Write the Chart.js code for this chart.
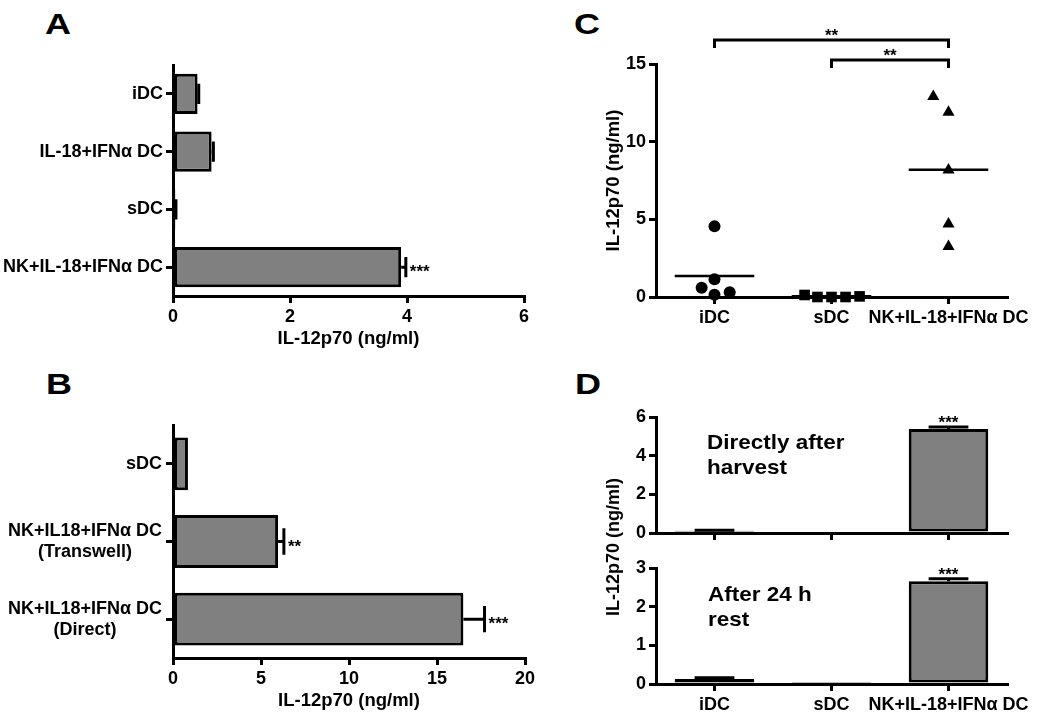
<!DOCTYPE html>
<html>
<head>
<meta charset="utf-8">
<script src="https://cdn.jsdelivr.net/npm/chart.js@4.4.1/dist/chart.umd.min.js"></script>
<style>
  body { margin: 0; background: #fff; width: 1050px; height: 721px; position: relative; overflow: hidden;
         font-family: "Liberation Sans", Arial, sans-serif; }
  canvas { position: absolute; }
  .txt { position: absolute; font-weight: bold; color: #000; white-space: nowrap; line-height: 1; }
  .letter { position: absolute; font-weight: bold; color: #000; font-size: 30px; line-height: 1;
            transform: scaleX(1.2); transform-origin: left top; }
  .note { position: absolute; font-weight: bold; color: #000; font-size: 21px; line-height: 25px;
          white-space: nowrap; transform: scaleX(1.07); transform-origin: left top; }
</style>
</head>
<body>
<div class="letter" style="left:45px;top:9px">A</div>
<div class="letter" style="left:46px;top:369px">B</div>
<div class="letter" style="left:574px;top:9px">C</div>
<div class="letter" style="left:575px;top:369px">D</div>

<canvas id="chartA" width="545" height="312" style="left:0;top:40px"></canvas>
<canvas id="chartB" width="545" height="314" style="left:0;top:400px"></canvas>
<canvas id="chartC" width="490" height="337" style="left:560px;top:0"></canvas>
<canvas id="chartD1" width="490" height="150" style="left:560px;top:400px"></canvas>
<canvas id="chartD2" width="490" height="171" style="left:560px;top:550px"></canvas>

<div class="note" style="left:707px;top:429px">Directly after<br>harvest</div>
<div class="note" style="left:708px;top:581px">After 24 h<br>rest</div>
<div class="txt" style="left:613px;top:547px;font-size:18px;transform:translate(-50%,-50%) rotate(-90deg)">IL-12p70 (ng/ml)</div>

<script>
// panel A
const aLabels = ["iDC", "IL-18+IFNα DC", "sDC", "NK+IL-18+IFNα DC"];
const aValues = [0.42, 0.66, 0.04, 3.9];
const aErrors = [0.02, 0.03, 0.01, 0.08];
const aStars = ["", "", "", "***"];
const aTicks = [0, 2, 4, 6];

// panel B
const bLabels = ["sDC", ["NK+IL18+IFNα DC", "(Transwell)"], ["NK+IL18+IFNα DC", "(Direct)"]];
const bValues = [0.85, 5.97, 16.5];
const bErrors = [0, 0.33, 1.2];
const bStars = ["", "**", "***"];
const bTicks = [0, 5, 10, 15, 20];

// panel C (x = group index + small jitter)
const cLabels = ["iDC", "sDC", "NK+IL-18+IFNα DC"];
const cIDC = [4.55, 0.6, 1.15, 0.15, 0.3];
const cIDCJitter = [0, -0.11, 0, 0, 0.13];
const cSDC = [0.13, 0, 0, 0, 0.04];
const cSDCJitter = [-0.23, -0.12, 0, 0.12, 0.24];
const cNK = [12.9, 11.9, 8.17, 4.7, 3.25];
const cNKJitter = [-0.13, 0, 0, 0, 0];
const cMeans = [1.35, 0.05, 8.2];
const cBrackets = [[0, 2, "**"], [1, 2, "**"]];
const cTicks = [0, 5, 10, 15];

// panel D
const dLabels = ["iDC", "sDC", "NK+IL-18+IFNα DC"];
const dDirect = [0.12, 0, 5.38];
const dDirectErr = [0.02, 0, 0.1];
const dRest = [0.13, 0.02, 2.66];
const dRestErr = [0.03, 0, 0.06];
const dStars = ["", "", "***"];
const dTicksTop = [0, 2, 4, 6];
const dTicksBottom = [0, 1, 2, 3];

const FAMILY = "'Liberation Sans', Arial, sans-serif";
const FONT = { family: FAMILY, size: 18, weight: "bold" };
const GREY = "#808080";

function axis(extra) {
  return Object.assign({
    border: { display: true, color: "#000", width: 3 },
    grid: { display: true, drawOnChartArea: false, drawTicks: true, tickLength: 7,
            color: "#000", lineWidth: 3, offset: false },
    ticks: { color: "#000", font: FONT, padding: 3, maxRotation: 0, minRotation: 0, autoSkip: false }
  }, extra);
}

function fixedTicks(list) {
  return s => { s.ticks = list.map(v => ({ value: v })); };
}

// error bars + significance stars, drawn from the bar scale
function errorBars(values, errors, stars) {
  return {
    id: "errorBars",
    afterDatasetsDraw(chart) {
      const ctx = chart.ctx;
      const horiz = chart.options.indexAxis === "y";
      const vScale = horiz ? chart.scales.x : chart.scales.y;
      const meta = chart.getDatasetMeta(0);
      ctx.save();
      ctx.strokeStyle = "#000";
      ctx.fillStyle = "#000";
      ctx.lineWidth = 3;
      ctx.font = "bold 17px " + FAMILY;
      meta.data.forEach((bar, i) => {
        const start = vScale.getPixelForValue(values[i]);
        const end = vScale.getPixelForValue(values[i] + errors[i]);
        const cap = (horiz ? bar.height : bar.width) / 4;
        if (errors[i] > 0) {
          ctx.beginPath();
          if (horiz) {
            ctx.moveTo(start, bar.y); ctx.lineTo(end, bar.y);
            ctx.moveTo(end, bar.y - cap); ctx.lineTo(end, bar.y + cap);
          } else {
            ctx.moveTo(bar.x, start); ctx.lineTo(bar.x, end);
            ctx.moveTo(bar.x - cap, end); ctx.lineTo(bar.x + cap, end);
          }
          ctx.stroke();
        }
        if (stars[i]) {
          ctx.textBaseline = "alphabetic";
          if (horiz) {
            ctx.textAlign = "left";
            ctx.fillText(stars[i], end + 4, bar.y + 10);
          } else {
            ctx.textAlign = "center";
            ctx.fillText(stars[i], bar.x, end + 1);
          }
        }
      });
      ctx.restore();
    }
  };
}

const baseOpts = {
  responsive: false,
  animation: false,
  events: [],
  plugins: { legend: { display: false }, tooltip: { enabled: false } }
};

function barSet(values, pct) {
  return {
    data: values, backgroundColor: GREY, borderColor: "#000", borderWidth: 3,
    borderSkipped: false, barPercentage: pct, categoryPercentage: 1
  };
}

const TITLE = { display: true, text: "IL-12p70 (ng/ml)", color: "#000",
                font: { family: FAMILY, size: 18.5, weight: "bold" } };

// A
new Chart(document.getElementById("chartA"), {
  type: "bar",
  data: { labels: aLabels, datasets: [barSet(aValues, 0.7)] },
  options: Object.assign({}, baseOpts, {
    indexAxis: "y",
    layout: { padding: { top: 25, right: 21, left: 0, bottom: 0 } },
    scales: {
      x: axis({
        min: 0, max: 6,
        afterBuildTicks: fixedTicks(aTicks),
        afterFit: s => { s.height = 56; },
        title: Object.assign({}, TITLE, { padding: { top: 0, bottom: 2 } })
      }),
      y: axis({ afterFit: s => { s.width = 173; } })
    }
  }),
  plugins: [errorBars(aValues, aErrors, aStars)]
});

// B: multi-line category labels, block right-aligned, lines centred
const bLabelPlugin = {
  id: "bLabels",
  afterDraw(chart) {
    const ctx = chart.ctx;
    const y = chart.scales.y;
    ctx.save();
    ctx.fillStyle = "#000";
    ctx.font = "bold 18px " + FAMILY;
    ctx.textAlign = "center";
    ctx.textBaseline = "middle";
    const right = y.right - 7 - 4;
    bLabels.forEach((lab, i) => {
      const lines = Array.isArray(lab) ? lab : [lab];
      const widest = Math.max(...lines.map(l => ctx.measureText(l).width));
      const cy = y.getPixelForValue(i);
      lines.forEach((l, k) => {
        ctx.fillText(l, right - widest / 2, cy + (k - (lines.length - 1) / 2) * 21);
      });
    });
    ctx.restore();
  }
};

new Chart(document.getElementById("chartB"), {
  type: "bar",
  data: { labels: bLabels, datasets: [barSet(bValues, 0.68)] },
  options: Object.assign({}, baseOpts, {
    indexAxis: "y",
    layout: { padding: { top: 25, right: 20, left: 0, bottom: 0 } },
    scales: {
      x: axis({
        min: 0, max: 20,
        afterBuildTicks: fixedTicks(bTicks),
        afterFit: s => { s.height = 56; },
        title: Object.assign({}, TITLE, { padding: { top: 0, bottom: 2 } })
      }),
      y: axis({
        ticks: { display: false },
        afterFit: s => { s.width = 173; }
      })
    }
  }),
  plugins: [errorBars(bValues, bErrors, bStars), bLabelPlugin]
});

// C: scatter with mean lines and brackets
const cExtras = {
  id: "cExtras",
  afterDatasetsDraw(chart) {
    const { ctx, chartArea } = chart;
    const x = chart.scales.x, y = chart.scales.y;
    ctx.save();
    ctx.strokeStyle = "#000";
    ctx.fillStyle = "#000";
    ctx.lineWidth = 2.5;
    cMeans.forEach((m, i) => {
      const py = y.getPixelForValue(m);
      ctx.beginPath();
      ctx.moveTo(x.getPixelForValue(i - 0.34), py);
      ctx.lineTo(x.getPixelForValue(i + 0.34), py);
      ctx.stroke();
    });
    ctx.lineWidth = 3;
    ctx.font = "bold 17px " + FAMILY;
    ctx.textAlign = "center";
    ctx.textBaseline = "alphabetic";
    cBrackets.forEach(([a, b, txt], k) => {
      const py = chartArea.top - 24 + k * 20;
      const xa = x.getPixelForValue(a), xb = x.getPixelForValue(b);
      ctx.beginPath();
      ctx.moveTo(xa, py + 8); ctx.lineTo(xa, py); ctx.lineTo(xb, py); ctx.lineTo(xb, py + 8);
      ctx.stroke();
      ctx.fillText(txt, (xa + xb) / 2, py + 1);
    });
    ctx.restore();
  }
};

function pts(group, values, jitter) {
  return values.map((v, i) => ({ x: group + jitter[i], y: v }));
}

function scatterSet(data, style, r) {
  return { data, pointStyle: style, pointRadius: r, backgroundColor: "#000", borderColor: "#000",
           borderWidth: 0, showLine: false, clip: false };
}

new Chart(document.getElementById("chartC"), {
  type: "scatter",
  data: {
    datasets: [
      scatterSet(pts(0, cIDC, cIDCJitter), "circle", 6),
      scatterSet(pts(1, cSDC, cSDCJitter), "rect", 7.5),
      scatterSet(pts(2, cNK, cNKJitter), "triangle", 7)
    ]
  },
  options: Object.assign({}, baseOpts, {
    layout: { padding: { top: 64, right: 43, left: 0, bottom: 0 } },
    scales: {
      x: axis({
        type: "linear", min: -0.5, max: 2.5,
        afterBuildTicks: fixedTicks([0, 1, 2]),
        afterFit: s => { s.height = 40; },
        ticks: { color: "#000", font: FONT, padding: 3, maxRotation: 0, autoSkip: false,
                 callback: v => cLabels[v] }
      }),
      y: axis({
        min: 0, max: 15,
        afterBuildTicks: fixedTicks(cTicks),
        afterFit: s => { s.width = 96; },
        title: Object.assign({}, TITLE, { padding: { top: 43, bottom: 0 } })
      })
    }
  }),
  plugins: [cExtras]
});

// D: two stacked bar charts
function dChart(id, values, errors, max, ticks, showLabels, axisH, padTop) {
  return new Chart(document.getElementById(id), {
    type: "bar",
    data: { labels: dLabels, datasets: [barSet(values, 0.68)] },
    options: Object.assign({}, baseOpts, {
      layout: { padding: { top: padTop, right: 43, left: 0, bottom: 0 } },
      scales: {
        x: axis({
          afterFit: s => { s.height = axisH; },
          ticks: { display: showLabels, color: "#000", font: FONT, padding: 3,
                   maxRotation: 0, minRotation: 0, autoSkip: false }
        }),
        y: axis({
          min: 0, max: max,
          afterBuildTicks: fixedTicks(ticks),
          afterFit: s => { s.width = 96; }
        })
      }
    }),
    plugins: [errorBars(values, errors, dStars)]
  });
}

dChart("chartD1", dDirect, dDirectErr, 6, dTicksTop, false, 17, 17);
dChart("chartD2", dRest, dRestErr, 3, dTicksBottom, true, 37, 18);
</script>
</body>
</html>
